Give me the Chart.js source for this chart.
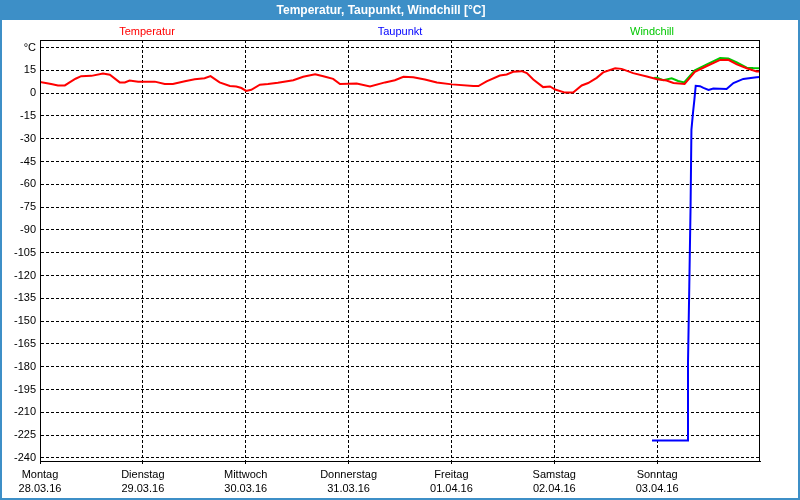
<!DOCTYPE html>
<html>
<head>
<meta charset="utf-8">
<script src="https://cdn.jsdelivr.net/npm/chart.js@4"></script>
<style>
  html, body { margin: 0; padding: 0; background: #fff; overflow: hidden; }
  canvas { display: block; }
</style>
</head>
<body>
<canvas id="c" width="800" height="500"></canvas>
<script>
// ---- data (x in hours since Monday 28.03.16 00:00) ----
const titleText = 'Temperatur, Taupunkt, Windchill [°C]';
const seriesNames = ['Temperatur', 'Taupunkt', 'Windchill'];

const tempHours = [0, 2.6, 4.2, 5.8, 6.9, 8.3, 9.6, 12, 14.7, 16.3, 18.6, 19.8, 20.9, 22.9, 26.8, 29.1, 31, 33.8, 36.1, 38.4, 39.8, 41.9, 44.3, 45.8, 47, 48.1, 49.3, 51.3, 53.2, 55.5, 59.1, 61.4, 64.2, 66.1, 68.4, 70, 73.9, 77, 80.5, 82.8, 84.8, 87.1, 89.8, 92.6, 96.1, 101.1, 102.3, 104.2, 107.3, 108.9, 110.4, 112.4, 113.6, 115.1, 117.4, 119, 120.2, 122.5, 124.4, 126.4, 127.9, 129.9, 131.4, 134.2, 135.7, 138.4, 141.6, 144, 146.2, 147.8, 150.4, 152.8, 155.6, 158.7, 160.6, 162.6, 164.9, 167.2, 168];
const tempValues = [7.3, 6.0, 5.1, 5.1, 7.1, 9.5, 11.2, 11.4, 13.0, 12.1, 7.1, 7.1, 8.3, 7.6, 7.6, 6.0, 6.0, 7.8, 9.2, 9.8, 11.2, 7.1, 4.7, 4.4, 3.4, 1.5, 2.2, 5.6, 6.0, 6.8, 8.5, 10.8, 12.5, 11.2, 9.4, 6.0, 6.3, 4.4, 7.1, 8.5, 10.8, 10.5, 9.0, 7.1, 5.8, 4.7, 4.7, 7.8, 11.6, 12.3, 14.1, 14.5, 13.2, 9.0, 4.0, 4.4, 2.4, 0.4, 0.5, 5.1, 6.7, 10.1, 13.7, 16.4, 16.0, 13.2, 11.0, 9.2, 8.3, 6.7, 6.0, 14.1, 17.9, 21.9, 22.0, 19.0, 16.4, 14.3, 14.2];

const dewHours = [142.8, 151.0, 151.2, 151.5, 151.8, 152.0, 152.4, 152.7, 153.0, 154.0, 154.8, 156.0, 157.1, 160.2, 161.8, 164.1, 167.2, 168];
const dewValues = [-228.5, -228.5, -177.5, -127, -74.5, -24, -12, -4, 4.9, 4.6, 3.5, 2.2, 3.1, 2.7, 6.7, 9.4, 10.5, 10.6];

const chillHours = [143.2, 144, 145.4, 147.4, 148.9, 150.3, 152.8, 155.6, 158.7, 160.6, 162.6, 164.9, 166.4, 168];
const chillValues = [10.0, 10.1, 8.5, 9.8, 8.0, 7.1, 15.0, 19.0, 23.1, 22.9, 20.2, 16.8, 16.5, 16.4];

const xTickHours = [0, 24, 48, 72, 96, 120, 144];
const dayNames = ['Montag', 'Dienstag', 'Mittwoch', 'Donnerstag', 'Freitag', 'Samstag', 'Sonntag'];
const dayDates = ['28.03.16', '29.03.16', '30.03.16', '31.03.16', '01.04.16', '02.04.16', '03.04.16'];
const yTickValues = [30, 15, 0, -15, -30, -45, -60, -75, -90, -105, -120, -135, -150, -165, -180, -195, -210, -225, -240];
const unitLabel = '°C';

// ---- styling ----
const FONT = 'Liberation Sans, Arial, sans-serif';
const BAR_BLUE = '#3d8fc7';
const seriesColors = ['#ff0000', '#0000ff', '#00c800'];

function toPoints(xs, ys) { return xs.map((x, i) => ({ x: x, y: ys[i] })); }

const framePlugin = {
  id: 'frame',
  beforeDraw(chart) {
    const ctx = chart.ctx, w = chart.width, h = chart.height;
    ctx.save();
    ctx.fillStyle = BAR_BLUE;
    ctx.fillRect(0, 0, w, h);
    ctx.fillStyle = '#ffffff';
    ctx.fillRect(2, 20, w - 4, h - 22);
    ctx.restore();
  },
  afterDraw(chart) {
    const ctx = chart.ctx, a = chart.chartArea;
    ctx.save();
    ctx.strokeStyle = '#000';
    ctx.lineWidth = 1;
    ctx.strokeRect(Math.round(a.left) + 0.5, Math.round(a.top) + 0.5, Math.round(a.right - a.left) - 1, Math.round(a.bottom - a.top));
    // series labels above plot
    ctx.font = '11px ' + FONT;
    ctx.textAlign = 'center';
    ctx.textBaseline = 'middle';
    const cx = (a.left + a.right) / 2;
    const offs = [-253, 0, 252];
    chart.data.datasets.forEach((ds, i) => {
      ctx.fillStyle = ds.borderColor;
      ctx.fillText(ds.label, cx + offs[i], 32);
    });
    ctx.restore();
  }
};

new Chart(document.getElementById('c'), {
  type: 'line',
  data: {
    datasets: [
      { label: seriesNames[0], data: toPoints(tempHours, tempValues), borderColor: seriesColors[0], borderWidth: 2, pointRadius: 0, tension: 0, fill: false },
      { label: seriesNames[1], data: toPoints(dewHours, dewValues), borderColor: seriesColors[1], borderWidth: 2, pointRadius: 0, tension: 0, fill: false },
      { label: seriesNames[2], data: toPoints(chillHours, chillValues), borderColor: seriesColors[2], borderWidth: 2, pointRadius: 0, tension: 0, fill: false }
    ]
  },
  options: {
    responsive: false,
    animation: false,
    devicePixelRatio: 1,
    layout: { padding: { left: 2, right: 40, top: 0, bottom: 0 } },
    plugins: {
      legend: { display: false },
      tooltip: { enabled: false },
      title: {
        display: true,
        text: titleText,
        color: '#ffffff',
        font: { family: FONT, size: 12, weight: 'bold', lineHeight: '13px' },
        padding: { top: 4, bottom: 23 }
      }
    },
    scales: {
      x: {
        type: 'linear',
        min: 0,
        max: 168,
        afterBuildTicks(scale) { scale.ticks = xTickHours.map(v => ({ value: v })); },
        afterFit(scale) { scale.height = 39; },
        grid: { color: '#000', lineWidth: 1, drawTicks: true, tickLength: 3, tickBorderDash: [3, 2] },
        border: { display: true, color: '#000', width: 1, dash: [3, 2] },
        ticks: {
          autoSkip: false, maxRotation: 0, minRotation: 0, padding: 4, color: '#000',
          font: { family: FONT, size: 11, lineHeight: '14px' },
          callback(value) { const i = xTickHours.indexOf(value); return i >= 0 ? [dayNames[i], dayDates[i]] : ''; }
        }
      },
      y: {
        type: 'linear',
        min: -242,
        max: 35,
        afterBuildTicks(scale) { scale.ticks = yTickValues.map(v => ({ value: v })); },
        afterFit(scale) { scale.width = 38; },
        grid: { color: '#000', lineWidth: 1, drawTicks: false },
        border: { display: true, color: '#000', width: 1, dash: [3, 2] },
        ticks: {
          autoSkip: false, padding: 4, color: '#000',
          font: { family: FONT, size: 11 },
          callback(value) { return value === yTickValues[0] ? unitLabel : String(value); }
        }
      }
    }
  },
  plugins: [framePlugin]
});
</script>
</body>
</html>
